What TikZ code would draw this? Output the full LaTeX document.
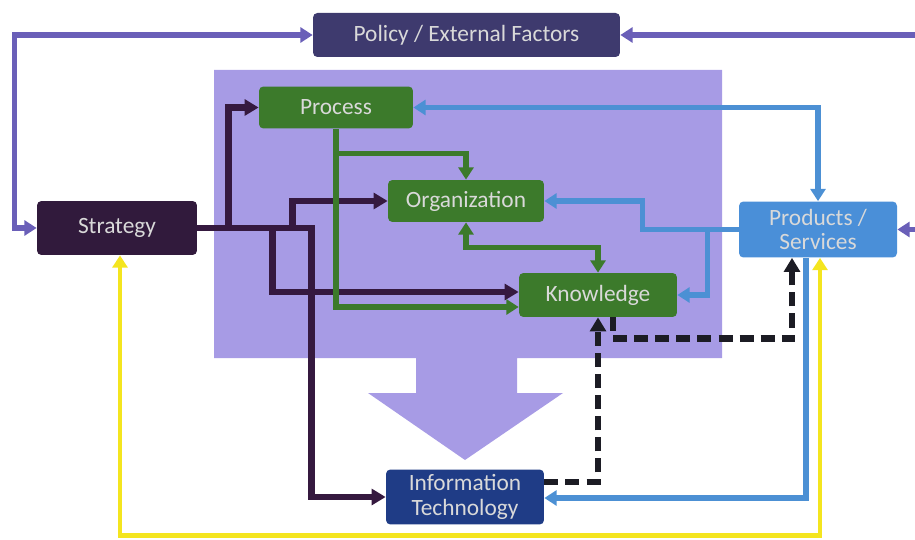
\documentclass[tikz,border=0pt]{standalone}
\usepackage{fontspec}
\setmainfont{Carlito}
\usetikzlibrary{arrows.meta,calc}
\definecolor{bgpurple}{HTML}{A79BE5}
\definecolor{polbox}{HTML}{3E3A6E}
\definecolor{strbox}{HTML}{311A3C}
\definecolor{grbox}{HTML}{3C7A2B}
\definecolor{psbox}{HTML}{4A8FD8}
\definecolor{itbox}{HTML}{1F3C86}
\definecolor{dkline}{HTML}{35193F}
\definecolor{blline}{HTML}{4C90D4}
\definecolor{puline}{HTML}{6A5FB8}
\definecolor{yeline}{HTML}{F4E51F}
\definecolor{bkline}{HTML}{1C1C24}

\begin{document}
\begin{tikzpicture}[x=0.02cm,y=-0.02cm,>={Triangle[length=8pt,width=9pt]},
box/.style={rounded corners=2.5pt, minimum width=3.16cm, minimum height=.86cm, inner sep=0pt,
  align=center, text=white!85!black, font=\fontsize{13.3}{14}\selectfont},
dk/.style={draw=dkline, line width=3.8pt},
gr/.style={draw=grbox, line width=3pt, >={Triangle[length=7pt,width=8.5pt]}},
bl/.style={draw=blline, line width=3pt, >={Triangle[length=7pt,width=8.5pt]}},
pu/.style={draw=puline, line width=3pt, >={Triangle[length=7pt,width=8.5pt]}},
ye/.style={draw=yeline, line width=2.8pt, >={Triangle[length=7pt,width=8.5pt]}},
bk/.style={draw=bkline, line width=3.6pt, dash pattern=on 8pt off 4pt}]
\useasboundingbox (0,0) rectangle (915,540);

\fill[bgpurple] (214,70) -- (722,70) -- (722,358) -- (517,358) -- (517,393) -- (563,393) -- (465,460)
  -- (368,393) -- (416,393) -- (416,358) -- (214,358) -- cycle;

\node[box, fill=polbox, minimum width=6.14cm, minimum height=.88cm] (Pol) at (466.5,35) {Policy / External Factors};
\node[box, fill=strbox, minimum width=3.2cm, minimum height=1.08cm] (S) at (117,228) {Strategy};
\node[box, fill=grbox, minimum width=3.08cm, minimum height=.84cm] (P) at (336,107.5) {Process};
\node[box, fill=grbox, minimum width=3.12cm, minimum height=.84cm] (O) at (466,201) {Organization};
\node[box, fill=grbox, minimum height=.88cm] (K) at (598,295) {Knowledge};
\node[box, fill=psbox, minimum height=1.12cm] (PS) at (818,229.5) {Products /\\Services};
\node[box, fill=itbox, minimum height=1.1cm] (IT) at (465,497) {Information\\Technology};

\draw[pu,<->] (Pol.west) -- ++(-298,0) |- (S.west);
\draw[pu,<->] (Pol.east) -- ++(310,0) |- (PS.east);

\draw[dk,->] (S.east) -- ++(114,0) |- (IT.west);
\draw[dk,->] (S.east) ++(31,0) |- (P.west);
\draw[dk,->] (S.east) ++(95,0) |- (O.west);
\draw[dk,->] (S.east) ++(75,0) |- ($(K.west)+(0,-3)$);

\draw[gr,->] (P.south) |- ($(K.west)+(0,12)$);
\draw[gr,->] ($(P.south)+(0,25)$) -| (O.north);
\draw[gr,<->] (O.south) -- ++(0,25) -| (K.north);

\draw[bl,<->] (P.east) -| (PS.north);
\draw[bl,->] (PS.west) -- ++(-96,0) |- (O.east);
\draw[bl,->] (PS.west) ++(-31,0) |- (K.east);
\draw[bl,->] ($(PS.south)+(-12,0)$) |- ($(IT.east)+(0,1)$);

\draw[ye,<->] ($(PS.south)+(2,0)$) -- ++(0,278) -| ($(S.south)+(3,0)$);

\draw[bk,->] (IT.east) ++(0,-15) -| (K.south);
\draw[bk,->] ($(K.south)+(15,0)$) -- ++(0,21) -| ($(PS.south)+(-26,0)$);

\end{tikzpicture}
\end{document}
